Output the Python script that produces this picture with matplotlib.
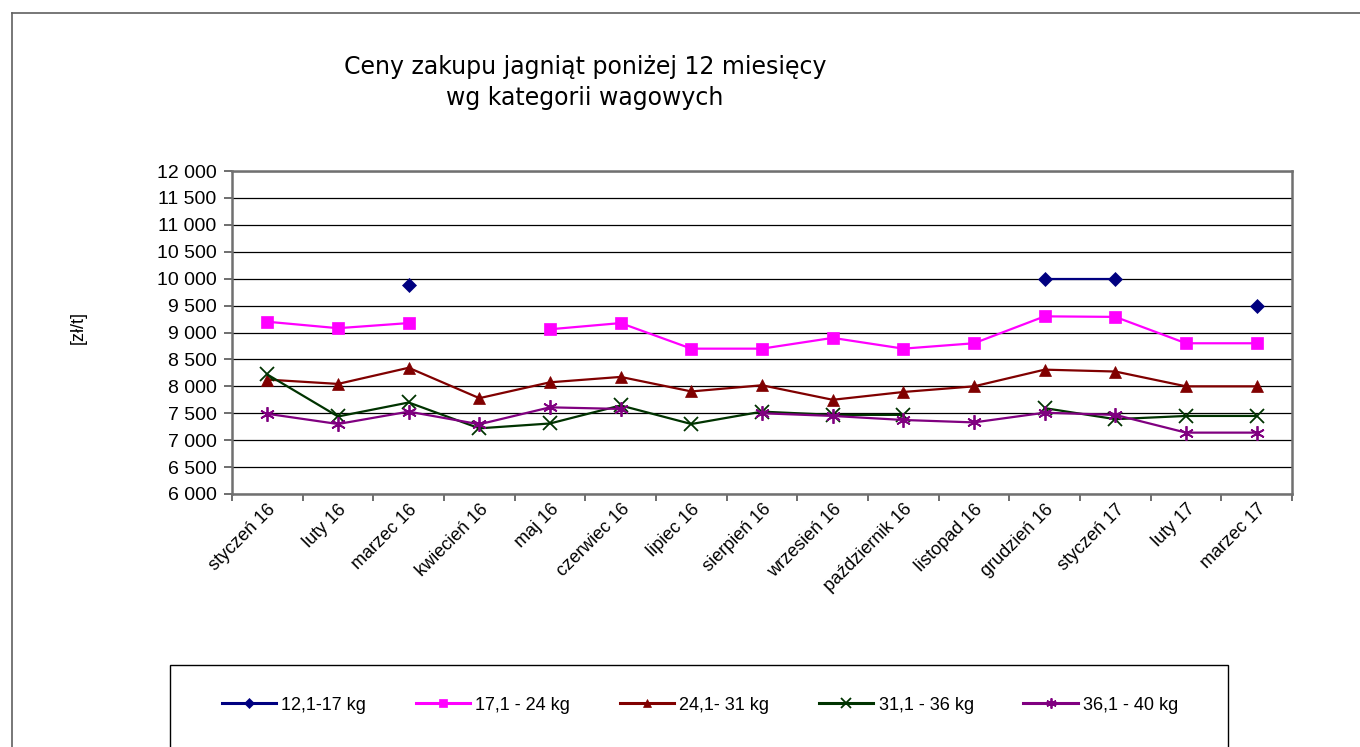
import numpy as np
import matplotlib
matplotlib.use("Agg")
import matplotlib.pyplot as plt
from matplotlib.lines import Line2D
from matplotlib.patches import Rectangle
from matplotlib.ticker import FuncFormatter
import matplotlib.transforms as mtransforms

plt.rcParams["font.family"] = ["Liberation Sans", "DejaVu Sans"]

nan = np.nan

months = ["styczeń 16", "luty 16", "marzec 16", "kwiecień 16", "maj 16",
          "czerwiec 16", "lipiec 16", "sierpień 16", "wrzesień 16",
          "październik 16", "listopad 16", "grudzień 16", "styczeń 17",
          "luty 17", "marzec 17"]

kat_12_17 = [nan, nan, 9890, nan, nan, nan, nan, nan, nan, nan, nan,
             10000, 10000, nan, 9500]
kat_17_24 = [9200, 9080, 9175, nan, 9060, 9175, 8700, 8700, 8900, 8700,
             8800, 9300, 9290, 8800, 8800]
kat_24_31 = [8125, 8045, 8345, 7780, 8075, 8175, 7905, 8020, 7750, 7895,
             8000, 8310, 8275, 8000, 8000]
kat_31_36 = [8220, 7440, 7700, 7220, 7310, 7645, 7300, 7530, 7470, 7470,
             nan, 7595, 7390, 7450, 7450]
kat_36_40 = [7490, 7300, 7530, 7295, 7610, 7580, nan, 7500, 7450, 7375,
             7330, 7510, 7470, 7140, 7140]

series = [
    ("12,1-17 kg", kat_12_17, "#000080", "D", 7),
    ("17,1 - 24 kg", kat_17_24, "#FF00FF", "s", 8.5),
    ("24,1- 31 kg", kat_24_31, "#800000", "^", 9),
    ("31,1 - 36 kg", kat_31_36, "#003300", "x", 9.5),
    ("36,1 - 40 kg", kat_36_40, "#800080", (6, 2, 0), 10.5),
]

W, H = 1360, 747
fig = plt.figure(figsize=(W / 100, H / 100), dpi=100)
ax = fig.add_axes([232 / W, 1 - 494 / H, (1292 - 232) / W, (494 - 171) / H])

x = np.arange(len(months))
handles = []
for label, vals, color, marker, ms in series:
    thin = marker == "x" or isinstance(marker, tuple)
    ln, = ax.plot(x, vals, color=color, lw=1.6, marker=marker,
                  markersize=ms, markeredgewidth=1.3 if thin else 0.5,
                  markeredgecolor=color, label=label)
    handles.append(ln)

ax.set_xlim(-0.5, len(months) - 0.5)
ax.set_ylim(6000, 12000)
ax.set_yticks(np.arange(6000, 12001, 500))
ax.yaxis.set_major_formatter(FuncFormatter(lambda v, p: f"{int(v):,}".replace(",", " ")))
ax.grid(axis="y", color="black", lw=0.9)
ax.set_axisbelow(True)

ax.set_xticks(x)
ax.set_xticklabels(months, rotation=45, ha="right", rotation_mode="anchor", fontsize=13)
shift = mtransforms.ScaledTranslation(-5 / 100, 0, fig.dpi_scale_trans)
for lab in ax.get_xticklabels():
    lab.set_transform(lab.get_transform() + shift)
ax.set_xticks(np.arange(-0.5, len(months), 1), minor=True)
ax.tick_params(axis="x", which="major", length=0, pad=5)
ax.tick_params(axis="x", which="minor", length=5, width=1.2, color="#555555")
ax.tick_params(axis="y", length=6, width=1.2, color="#555555", labelsize=14, pad=5)

for side in ["left", "bottom", "top", "right"]:
    ax.spines[side].set_color("#707070")
    ax.spines[side].set_linewidth(1.8)

fig.text(78 / W, 1 - 327 / H, "[zł/t]", rotation=90, ha="center", va="center", fontsize=13)

fig.text(585 / W, 1 - 67 / H, "Ceny zakupu jagniąt poniżej 12 miesięcy",
         ha="center", va="center", fontsize=17, family=["DejaVu Sans"])
fig.text(585 / W, 1 - 98 / H, "wg kategorii wagowych",
         ha="center", va="center", fontsize=17, family=["DejaVu Sans"])

# outer chart frame
fig.add_artist(Line2D([12 / W, 12 / W], [0, 1 - 13 / H], color="#606060", lw=1.2))
fig.add_artist(Line2D([12 / W, 1], [1 - 13 / H, 1 - 13 / H], color="#606060", lw=1.2))

# legend box
fig.add_artist(Rectangle((170 / W, -0.01), (1228 - 170) / W, (747 - 665) / H + 0.01,
                         transform=fig.transFigure, fill=False, edgecolor="black", lw=1))
leg = fig.legend(handles=handles, loc="center", bbox_to_anchor=(700 / W, 1 - 705 / H),
                 ncol=5, frameon=False, fontsize=13, handlelength=3.0,
                 handletextpad=0.3, columnspacing=2.75, markerscale=0.7)
for h in leg.legend_handles:
    h.set_linewidth(2.2)

fig.savefig("out.png", dpi=100)
